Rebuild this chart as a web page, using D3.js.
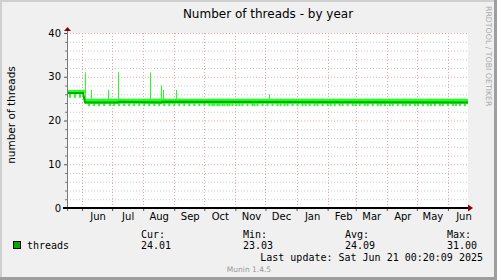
<!DOCTYPE html>
<html>
<head>
<meta charset="utf-8">
<script src="https://cdn.jsdelivr.net/npm/d3@7"></script>
<style>
	html, body { margin: 0; padding: 0; background: #f0f0f0; }
	svg { display: block; }
</style>
</head>
<body>
<div id="graph"></div>
<script>
	// range of the yearly graph (400 days up to the last update)
	var startDate = new Date(2024, 4, 17, 0, 20, 9);
	var endDate = new Date(2025, 5, 21, 0, 20, 9);

	var monthStarts = ["2024-06-01", "2024-07-01", "2024-08-01", "2024-09-01", "2024-10-01", "2024-11-01",
		"2024-12-01", "2025-01-01", "2025-02-01", "2025-03-01", "2025-04-01", "2025-05-01", "2025-06-01"];
	var monthLabels = ["Jun", "Jul", "Aug", "Sep", "Oct", "Nov", "Dec", "Jan", "Feb", "Mar", "Apr", "May", "Jun"];

	var yTicks = [0, 10, 20, 30, 40];

	// values: day offset from startDate
	var avgDays = [0, 16, 18, 51, 52, 94, 95, 400];
	var avgValues = [26.3, 26.3, 24.1, 24.1, 24.3, 24.1, 24.3, 24.1];

	var bandDays = [0, 18, 400];
	var bandHi = [27.0, 24.95, 24.95];
	var bandLo = [26.3, 23.85, 23.85];

	var dipsEarly = [2, 7, 12];
	var dipEarlyValue = 25.2;
	var dipsLate = [21, 26, 31, 36, 42, 46, 51, 56, 61, 66, 71, 76, 81, 86, 91, 96, 101, 106, 111, 116,
		121, 126, 131, 136, 141, 144, 146, 149, 151, 154, 156, 159, 161, 164, 168, 171, 174, 179, 184, 186,
		189, 194, 199, 204, 209, 212, 216, 219, 224, 229, 234, 237, 241, 246, 249, 254, 259, 262, 266, 271,
		274, 279, 284, 287, 291, 296, 299, 304, 309, 312, 316, 321, 324, 329, 334, 337, 341, 346, 349, 354,
		359, 362, 366, 371, 374, 379, 384, 387, 391, 396];
	var dipLateValue = 23.3;

	var spikeDays = [18, 24, 41, 51, 83, 94, 96, 109, 201];
	var spikeValues = [31, 27, 27, 31, 31, 28, 27, 27, 26];

	var legendName = "threads";
	var legendHeads = ["Cur:", "Min:", "Avg:", "Max:"];
	var legendValues = ["24.01", "23.03", "24.09", "31.00"];
	var lastUpdate = "Last update: Sat Jun 21 00:20:09 2025";

	var W = 497, H = 280;
	var margin = {left: 67, right: 29, top: 33, bottom: 72};
	var graphwidth = W - margin.left - margin.right;
	var graphheight = H - margin.top - margin.bottom;

	var bright = "#22ff22", dark = "#00aa00";

	var svg = d3.select("#graph").append("svg")
		.attr("width", W)
		.attr("height", H)
		.style("font-family", "'DejaVu Sans', sans-serif");

	// frame
	svg.append("rect").attr("width", W).attr("height", H).attr("fill", "#f0f0f0");
	svg.append("rect").attr("width", W).attr("height", 2).attr("fill", "#cfcfcf");
	svg.append("rect").attr("width", 2).attr("height", H).attr("fill", "#cfcfcf");
	svg.append("rect").attr("x", W - 3).attr("width", 3).attr("height", H).attr("fill", "#9e9e9e");
	svg.append("rect").attr("y", H - 3).attr("width", W).attr("height", 3).attr("fill", "#9e9e9e");

	var xScale = d3.scaleTime().domain([startDate, endDate]).range([0, graphwidth]);
	var yScale = d3.scaleLinear().domain([0, 40]).range([graphheight, 0]);
	var dayDate = d => d3.timeDay.offset(startDate, d);
	var parse = d3.timeParse("%Y-%m-%d");

	var g = svg.append("g").attr("transform", `translate(${margin.left},${margin.top})`);

	g.append("rect").attr("width", graphwidth).attr("height", graphheight).attr("fill", "#fff");

	// grid
	var minor = d3.range(0, 41, 2).filter(v => v % 10 !== 0);
	g.selectAll(".hmin").data(minor).join("line")
		.attr("x1", 0).attr("x2", graphwidth)
		.attr("y1", d => yScale(d) + 0.5).attr("y2", d => yScale(d) + 0.5)
		.attr("stroke", "#c8c8c8").attr("stroke-dasharray", "1,2");
	g.selectAll(".hmaj").data(yTicks.slice(1)).join("line")
		.attr("x1", 0).attr("x2", graphwidth)
		.attr("y1", d => yScale(d) + 0.5).attr("y2", d => yScale(d) + 0.5)
		.attr("stroke", "#f0a0a0").attr("stroke-dasharray", "1,2");
	g.selectAll(".vmaj").data(monthStarts).join("line")
		.attr("x1", d => Math.round(xScale(parse(d))) + 0.5).attr("x2", d => Math.round(xScale(parse(d))) + 0.5)
		.attr("y1", 0).attr("y2", graphheight)
		.attr("stroke", "#f0a0a0").attr("stroke-dasharray", "1,2");

	var clip = g.append("clipPath").attr("id", "clip").append("rect")
		.attr("width", graphwidth).attr("height", graphheight);
	var plot = g.append("g").attr("clip-path", "url(#clip)");

	// band of max/min
	var band = d3.area()
		.x(d => xScale(dayDate(d.day)))
		.y0(d => yScale(d.lo))
		.y1(d => yScale(d.hi))
		.curve(d3.curveStepAfter);
	plot.append("path")
		.attr("d", band(bandDays.map((d, i) => ({day: d, lo: bandLo[i], hi: bandHi[i]}))))
		.attr("fill", bright);

	// downward min dips
	plot.selectAll(".dipE").data(dipsEarly).join("rect")
		.attr("x", d => xScale(dayDate(d))).attr("width", 2)
		.attr("y", yScale(bandHi[0])).attr("height", yScale(dipEarlyValue) - yScale(bandHi[0]))
		.attr("fill", bright);
	plot.selectAll(".dipL").data(dipsLate).join("rect")
		.attr("x", d => xScale(dayDate(d))).attr("width", 2)
		.attr("y", yScale(bandHi[1])).attr("height", yScale(dipLateValue) - yScale(bandHi[1]))
		.attr("fill", bright);

	// upward max spikes
	plot.selectAll(".spike").data(spikeDays).join("line")
		.attr("x1", d => Math.round(xScale(dayDate(d))) + 0.5)
		.attr("x2", d => Math.round(xScale(dayDate(d))) + 0.5)
		.attr("y1", yScale(bandHi[1]))
		.attr("y2", (d, i) => yScale(spikeValues[i]))
		.attr("stroke", bright).attr("stroke-width", 1);

	// average line
	var line = d3.line()
		.x(d => xScale(dayDate(d.day)))
		.y(d => yScale(d.v));
	plot.append("path")
		.attr("d", line(avgDays.map((d, i) => ({day: d, v: avgValues[i]}))))
		.attr("fill", "none").attr("stroke", dark).attr("stroke-width", 2);

	// y axis
	var yAxis = g.append("g").call(d3.axisLeft(yScale).tickValues(yTicks).tickSize(3).tickPadding(3));
	yAxis.select(".domain").remove();
	yAxis.selectAll("line").attr("stroke", "#555");
	yAxis.selectAll("text").style("font-size", "10px").style("font-family", "'DejaVu Sans', sans-serif")
		.attr("fill", "#000");
	g.selectAll(".ymin").data(minor).join("line")
		.attr("x1", -2).attr("x2", 0)
		.attr("y1", d => yScale(d) + 0.5).attr("y2", d => yScale(d) + 0.5)
		.attr("stroke", "#777");
	g.append("line")
		.attr("x1", 0.5).attr("x2", 0.5).attr("y1", graphheight + 3).attr("y2", -3)
		.attr("stroke", "#777");
	g.append("path")
		.attr("d", "M-3,-2L4,-2L0.5,-6Z")
		.attr("fill", "#8b0000");

	// x axis
	var xAxis = g.append("g").attr("transform", `translate(0,${graphheight})`)
		.call(d3.axisBottom(xScale).tickValues(monthStarts.map(parse)).tickSize(3).tickFormat(""));
	xAxis.select(".domain").remove();
	xAxis.selectAll("line").attr("stroke", "#555");
	g.append("line")
		.attr("x1", -4).attr("x2", graphwidth + 1).attr("y1", graphheight).attr("y2", graphheight)
		.attr("stroke", "#000").attr("stroke-width", 2);
	g.append("path")
		.attr("d", `M${graphwidth},${graphheight - 3.5}L${graphwidth + 5},${graphheight}L${graphwidth},${graphheight + 3.5}Z`)
		.attr("fill", "#8b0000");
	g.selectAll(".mlabel").data(monthStarts).join("text")
		.attr("x", d => xScale(d3.timeDay.offset(parse(d), 16)))
		.attr("y", graphheight + 12)
		.attr("text-anchor", "middle")
		.style("font-size", "10px")
		.text((d, i) => monthLabels[i]);

	// title and side texts
	svg.append("text")
		.attr("x", 268).attr("y", 18)
		.attr("text-anchor", "middle")
		.style("font-size", "12px")
		.text("Number of threads - by year");
	svg.append("text")
		.attr("transform", "translate(15,115) rotate(-90)")
		.attr("text-anchor", "middle")
		.style("font-size", "10.5px")
		.text("number of threads");
	svg.append("text")
		.attr("transform", "translate(486,6) rotate(90)")
		.style("font-size", "7.8px")
		.attr("fill", "#aaa")
		.text("RRDTOOL / TOBI OETIKER");

	// legend
	var mono = "'DejaVu Sans Mono', monospace";
	var cols = [141, 243, 345, 447];
	svg.append("rect")
		.attr("x", 13.5).attr("y", 241.5).attr("width", 7).attr("height", 7)
		.attr("fill", dark).attr("stroke", "#000");
	svg.append("text")
		.attr("x", 27).attr("y", 249)
		.style("font-family", mono).style("font-size", "10px")
		.text(legendName);
	svg.selectAll(".lhead").data(legendHeads).join("text")
		.attr("x", (d, i) => cols[i]).attr("y", 238)
		.style("font-family", mono).style("font-size", "10px")
		.text(d => d);
	svg.selectAll(".lval").data(legendValues).join("text")
		.attr("x", (d, i) => cols[i]).attr("y", 249)
		.style("font-family", mono).style("font-size", "10px")
		.text(d => d);
	svg.append("text")
		.attr("x", 483).attr("y", 261)
		.attr("text-anchor", "end")
		.style("font-family", mono).style("font-size", "10px")
		.text(lastUpdate);
	svg.append("text")
		.attr("x", 249).attr("y", 272)
		.attr("text-anchor", "middle")
		.style("font-size", "7.5px")
		.attr("fill", "#999")
		.text("Munin 1.4.5");
</script>
</body>
</html>
